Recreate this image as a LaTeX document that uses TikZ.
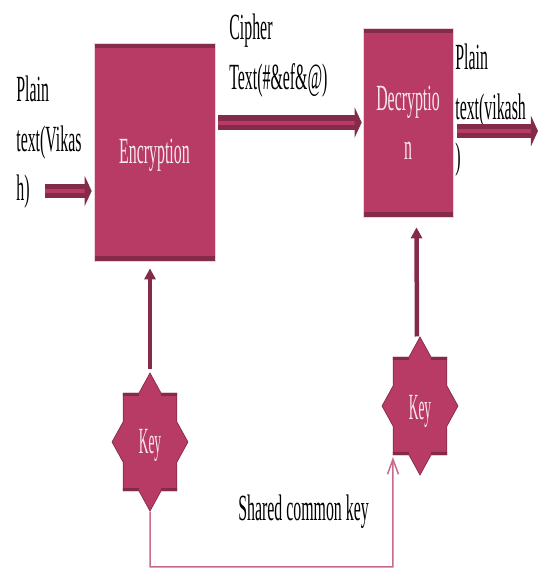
\documentclass[tikz,border=0pt]{standalone}
\usepackage{fontspec}
\usepackage{xcolor}
\usepackage{tikz}
\usetikzlibrary{arrows.meta,shapes.geometric}
\setmainfont[FakeStretch=0.43]{Liberation Serif}
\newfontfamily\keyfont[FakeStretch=0.66]{Liberation Serif}
\definecolor{roseblock}{RGB}{184,59,101}
\definecolor{rosedark}{RGB}{132,42,74}
\definecolor{roseline}{RGB}{201,106,140}
\definecolor{roseedge}{RGB}{240,208,220}
\definecolor{palelabel}{RGB}{248,232,238}
\tikzset{
    cipherbox/.style={draw=roseedge, fill=roseblock, inner sep=0pt, text=palelabel, align=center,
        font=\fontsize{21}{28}\selectfont,
        path picture={
            \fill[rosedark] (path picture bounding box.north west) rectangle ([yshift=-.1cm]path picture bounding box.north east);
            \fill[rosedark] (path picture bounding box.south west) rectangle ([yshift=.1cm]path picture bounding box.south east);
        }},
    keystar/.style={star, star points=8, star point ratio=1.307, minimum size=2.76cm, inner sep=0pt,
        xscale=.55, transform shape, draw=rosedark, fill=roseblock, text=palelabel,
        font=\keyfont\fontsize{21}{28}\selectfont},
    plainlabel/.style={anchor=north west, inner sep=0pt, align=left, font=\fontsize{21}{28}\selectfont},
    fatarrow/.style={draw=rosedark, double=roseblock, line width=.1cm, double distance=.08cm,
        -{Triangle[length=.14cm,width=.6cm,fill=rosedark]}},
    keyarrow/.style={draw=rosedark, line width=.09cm, -{Triangle[length=.22cm,width=.22cm]}},
    sharedline/.style={draw=roseline, line width=.03cm, -{Straight Barb[length=.3cm,width=.22cm]}},
    keyrim/.style={rosedark, line width=.06cm}
}
\begin{document}
\begin{tikzpicture}
    \useasboundingbox (0,0) rectangle (10.76,11.36);

    % Blocks
    \node[cipherbox, minimum width=2.42cm, minimum height=4.36cm] (encrypt) at (3.09,8.32) {\raisebox{-6.8pt}[0pt][0pt]{Encryption}};
    \node[cipherbox, minimum width=1.8cm, minimum height=3.78cm] (decrypt) at (8.16,8.91) {Decryptio\\n};

    % Keys
    \node[keystar] (keya) at (3,2.52) {\raisebox{-6.8pt}[0pt][0pt]{Key}};
    \node[keystar] (keyb) at (8.4,3.24) {\raisebox{-7.6pt}[0pt][0pt]{Key}};
    \foreach \k in {keya,keyb} {
        \draw[keyrim] ([yshift=-.03cm]\k.outer point 2) -- ([yshift=-.03cm]\k.inner point 1);
        \draw[keyrim] ([yshift=-.03cm]\k.outer point 8) -- ([yshift=-.03cm]\k.inner point 8);
        \draw[keyrim] ([yshift=.03cm]\k.outer point 4) -- ([yshift=.03cm]\k.inner point 4);
        \draw[keyrim] ([yshift=.03cm]\k.outer point 6) -- ([yshift=.03cm]\k.inner point 5);
    }

    % Labels
    \node[plainlabel] (plainin) at (.32,9.84) {Plain\\text(Vikas\\h)};
    \node[plainlabel] (ciphertext) at (4.58,11.08) {Cipher\\Text(\#\&ef\&@)};
    \node[plainlabel] (plainout) at (9.1,10.48) {Plain\\text(vikash\\)};
    \node[plainlabel] (sharedkey) at (4.76,1.46) {Shared common key};

    % Arrows
    \coordinate (instart) at (.9,7.54);
    \coordinate (outend) at (10.76,8.74);
    \coordinate (turn) at (7.86,.02);
    \draw[fatarrow, shorten >=.04cm] (instart) -- (instart -| encrypt.west);
    \draw[fatarrow, shorten <=.06cm, shorten >=.02cm] (decrypt.west -| encrypt.east) -- (decrypt.west);
    \draw[fatarrow, shorten <=.08cm] (outend -| decrypt.east) -- (outend);
    \draw[keyarrow, shorten <=.06cm] (keya.north) -- ([yshift=-.14cm]keya.north |- encrypt.south);
    \draw[keyarrow] ([xshift=-.06cm]keyb.north) -- ([xshift=.17cm,yshift=-.2cm]decrypt.south);
    \draw[sharedline, shorten >=.04cm] (keya.south) |- (turn) -- (keyb.outer point 4);
\end{tikzpicture}
\end{document}
